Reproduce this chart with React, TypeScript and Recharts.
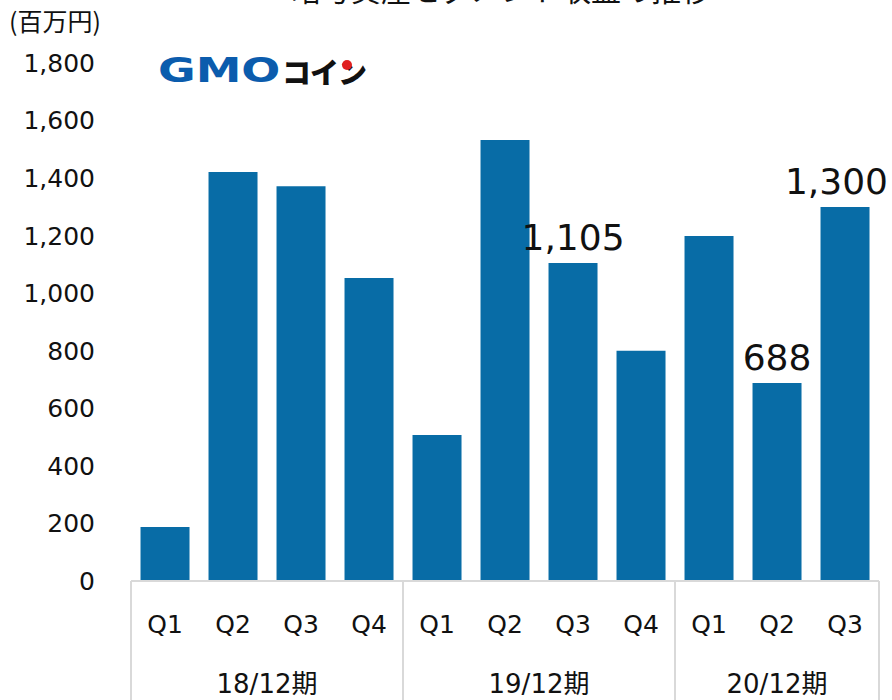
import { Bar, BarChart, LabelList, XAxis, YAxis } from "recharts";

const QUARTERS = ["Q1", "Q2", "Q3", "Q4", "Q1", "Q2", "Q3", "Q4", "Q1", "Q2", "Q3"];
const PERIODS = ["18/12期", "18/12期", "18/12期", "18/12期", "19/12期", "19/12期", "19/12期", "19/12期", "20/12期", "20/12期", "20/12期"];
const REVENUE = [188, 1421, 1372, 1053, 507, 1532, 1105, 800, 1199, 688, 1300];
const SHOW_LABEL = [false, false, false, false, false, false, true, false, false, true, true];
const Y_TICKS = [0, 200, 400, 600, 800, 1000, 1200, 1400, 1600, 1800];

const CHART_W = 892;
const BAR_COLOR = "#086ca6";
const SEP_COLOR = "#d9d9d9";
const FONT = "'DejaVu Sans', 'Noto Sans CJK JP', sans-serif";
const CJK_FONT = "'Noto Sans CJK JP', 'DejaVu Sans', sans-serif";

const rows = QUARTERS.map((q, i) => ({
  key: `${PERIODS[i]}-${q}`,
  q,
  period: PERIODS[i],
  value: REVENUE[i],
  show: SHOW_LABEL[i],
}));

// ticks: quarter label, plus period label + separators at group edges
function QuarterTick(props: any) {
  const { x, y, payload, index } = props;
  const half = payload?.offset ?? 0;
  const row = rows[index];
  const isFirst = index === 0 || rows[index - 1].period !== row.period;
  const isLast = index === rows.length - 1;
  const groupSize = rows.filter((r) => r.period === row.period).length;
  return (
    <g>
      <text x={x} y={y + 52} textAnchor="middle" fontSize={25} fill="#111" fontFamily={FONT}>
        {row.q}
      </text>
      {isFirst && (
        <>
          <line x1={x - half} x2={x - half} y1={y} y2={y + 200} stroke={SEP_COLOR} strokeWidth={2} />
          <text
            x={x - half + groupSize * half}
            y={y + 112}
            textAnchor="middle"
            fontSize={26}
            fill="#111"
            fontFamily={FONT}
          >
            {row.period}
          </text>
        </>
      )}
      {isLast && <line x1={x + half} x2={x + half} y1={y} y2={y + 200} stroke={SEP_COLOR} strokeWidth={2} />}
    </g>
  );
}

function ValueLabel(props: any) {
  const { x, y, width, index, value } = props;
  if (!rows[index]?.show) return null;
  const text = Number(value).toLocaleString("en-US");
  const fontSize = 36;
  const estW = text.length * 0.6 * fontSize;
  const cx = x + width / 2;
  // keep the label inside the picture at the right edge
  const overflow = cx + estW / 2 > CHART_W - 4;
  return (
    <text
      x={overflow ? CHART_W - 4 : cx}
      y={y - 13}
      textAnchor={overflow ? "end" : "middle"}
      fontSize={fontSize}
      fill="#111"
      fontFamily={FONT}
    >
      {text}
    </text>
  );
}

function Logo() {
  return (
    <div style={{ position: "absolute", left: 158, top: 52, width: 210, height: 38 }}>
      <span
        style={{
          position: "absolute",
          left: 0,
          top: -2,
          fontFamily: "'DejaVu Sans', sans-serif",
          fontWeight: 700,
          fontSize: 34,
          lineHeight: "40px",
          color: "#0b5cad",
          transform: "scaleX(1.35)",
          transformOrigin: "left center",
          whiteSpace: "nowrap",
        }}
      >
        GMO
      </span>
      <span
        style={{
          position: "absolute",
          left: 124,
          top: 0,
          fontFamily: CJK_FONT,
          fontWeight: 900,
          fontSize: 29,
          lineHeight: "38px",
          color: "#111",
          letterSpacing: -1,
          whiteSpace: "nowrap",
        }}
      >
        コイン
      </span>
      <span
        style={{
          position: "absolute",
          left: 184,
          top: 8,
          width: 10,
          height: 10,
          borderRadius: 5,
          background: "#e02020",
        }}
      />
    </div>
  );
}

export default function App() {
  return (
    <div
      style={{
        position: "absolute",
        left: 0,
        top: 0,
        width: CHART_W,
        height: 700,
        overflow: "hidden",
        background: "#fff",
      }}
    >
      <div
        style={{
          position: "absolute",
          left: 0,
          width: 1002,
          top: -27,
          textAlign: "center",
          fontFamily: CJK_FONT,
          fontSize: 30,
          lineHeight: "30px",
          fontWeight: 400,
          color: "#111",
        }}
      >
        暗号資産セグメント収益の推移
      </div>
      <div
        style={{
          position: "absolute",
          left: 9,
          top: 4,
          fontFamily: CJK_FONT,
          fontSize: 25,
          lineHeight: "32px",
          color: "#111",
        }}
      >
        (百万円)
      </div>
      <Logo />
      <div style={{ position: "absolute", left: 0, top: 0 }}>
        <BarChart
          width={CHART_W}
          height={760}
          data={rows}
          margin={{ top: 63, right: 13, bottom: 0, left: 0 }}
          barCategoryGap="14%"
        >
          <XAxis
            dataKey="key"
            interval={0}
            height={179}
            tickLine={false}
            tickSize={0}
            tickMargin={0}
            axisLine={{ stroke: SEP_COLOR, strokeWidth: 2 }}
            tick={<QuarterTick />}
          />
          <YAxis
            width={131}
            domain={[0, 1800]}
            ticks={Y_TICKS}
            interval={0}
            axisLine={false}
            tickLine={false}
            tickSize={0}
            tickMargin={36}
            tick={{ fontSize: 25, fill: "#111", fontFamily: FONT }}
            tickFormatter={(v: number) => v.toLocaleString("en-US")}
          />
          <Bar dataKey="value" fill={BAR_COLOR} isAnimationActive={false}>
            <LabelList dataKey="value" content={<ValueLabel />} />
          </Bar>
        </BarChart>
      </div>
    </div>
  );
}
